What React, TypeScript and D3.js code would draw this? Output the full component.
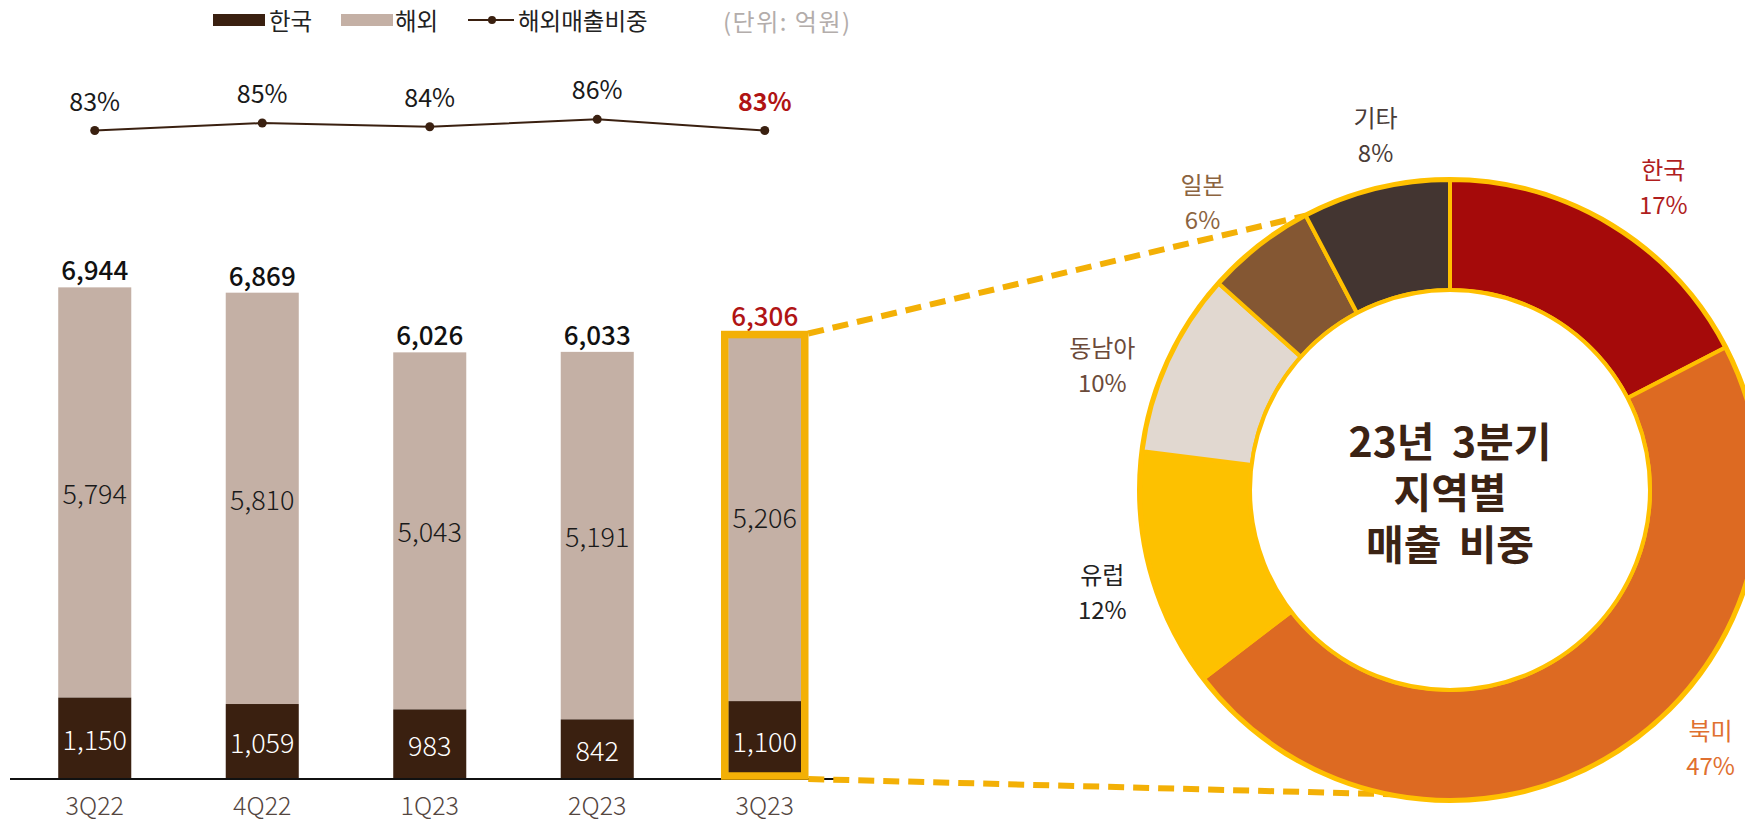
import React from "react";
import * as d3 from "d3";

const quarters = ["3Q22", "4Q22", "1Q23", "2Q23", "3Q23"];
const korea = [1150, 1059, 983, 842, 1100];
const overseas = [5794, 5810, 5043, 5191, 5206];
const totals = [6944, 6869, 6026, 6033, 6306];
const overseasShare = [83, 85, 84, 86, 83];
const shareLabels = ["83%", "85%", "84%", "86%", "83%"];

const regions = ["한국", "북미", "유럽", "동남아", "일본", "기타"];
const regionShare = [17.4, 47.2, 12.4, 9.6, 5.7, 7.7];
const regionLabels = ["17%", "47%", "12%", "10%", "6%", "8%"];
const centerTitle = ["23년 3분기", "지역별", "매출 비중"];

const FONT = "'Noto Sans CJK KR', 'Noto Sans', sans-serif";
const C_KOREA = "#3A2010";
const C_OVER = "#C4B0A5";
const C_HL = "#F3B006";
const regionColors = ["#A50A0A", "#DD6A22", "#FDC100", "#E1D8D0", "#845733", "#433531"];
const regionTextColors = ["#B01E1E", "#E07030", "#222222", "#6B4A3A", "#8C6440", "#4A3C38"];
// label placement around the donut: angle (deg, clockwise from top) and radius
const labelPlace: Record<string, [number, number]> = {
  "한국": [35, 372],
  "북미": [134.6, 366],
  "유럽": [253.8, 362],
  "동남아": [290, 370],
  "일본": [319.5, 381],
  "기타": [348.2, 364],
};

const fmt = d3.format(",");

export default function App() {
  const W = 1745, H = 821;
  const x = d3.scaleBand<string>().domain(quarters).range([11, 848.5]).paddingInner(0.564).paddingOuter(0.282);
  const bw = x.bandwidth();
  const y = d3.scaleLinear().domain([0, 7000]).range([779, 779 - 7000 * 0.0708]);
  const yl = d3.scaleLinear().domain([80, 90]).range([141.7, 104.4]);
  const cx = (q: string) => (x(q) as number) + bw / 2;

  const linePath = d3.line<number>().x((_, i) => cx(quarters[i])).y((d) => yl(d))(overseasShare) as string;

  // donut
  const dc = { x: 1450, y: 490 };
  const rOut = 310, rIn = 200;
  const pie = d3.pie<number>().sort(null).value((d) => d);
  const arcs = pie(regionShare);
  const arc = d3.arc<d3.PieArcDatum<number>>().innerRadius(rIn).outerRadius(rOut);
  const polar = (ang: number, r: number) => ({ x: dc.x + r * Math.sin(ang), y: dc.y - r * Math.cos(ang) });

  const last = quarters.length - 1;
  const lq = quarters[last];
  const hx0 = (x(lq) as number) - 3.5;
  const hx1 = (x(lq) as number) + bw + 3.5;
  const hy0 = y(totals[last]) + 2;
  const hy1 = y(0) - 3;

  const topAng = arcs[4].endAngle; // boundary 일본/기타
  const pTop = polar(topAng, rOut);
  const pBot = polar(Math.PI * (184 / 180), 306);

  return (
    <svg width={W} height={H} style={{ position: "absolute", left: 0, top: 0 }} fontFamily={FONT}>
      <rect width={W} height={H} fill="#fff" />
      {/* legend */}
      <g fontSize={23.5} fill="#222">
        <rect x={213} y={14} width={52} height={12} fill={C_KOREA} />
        <text x={269} y={20} dominantBaseline="central">한국</text>
        <rect x={341} y={14} width={52} height={12} fill={C_OVER} />
        <text x={395} y={20} dominantBaseline="central">해외</text>
        <line x1={468} x2={514} y1={20} y2={20} stroke={C_KOREA} strokeWidth={2} />
        <circle cx={492} cy={20} r={4} fill={C_KOREA} />
        <text x={518} y={20} dominantBaseline="central">해외매출비중</text>
        <text x={723} y={20} dominantBaseline="central" fill="#B3ADAB" fontSize={24} letterSpacing={1.5}>(단위: 억원)</text>
      </g>

      {/* share line */}
      <path d={linePath} fill="none" stroke={C_KOREA} strokeWidth={2} />
      {overseasShare.map((v, i) => (
        <g key={"p" + i}>
          <circle cx={cx(quarters[i])} cy={yl(v)} r={4.5} fill={C_KOREA} />
          <text x={cx(quarters[i])} y={yl(v) - 20} textAnchor="middle" fontSize={25}
            fill={i === last ? "#B01414" : "#1a1a1a"} fontWeight={i === last ? 700 : 400}>{shareLabels[i]}</text>
        </g>
      ))}

      {/* bars */}
      {quarters.map((q, i) => (
        <g key={q}>
          <rect x={x(q)} y={y(korea[i] + overseas[i])} width={bw} height={y(korea[i]) - y(korea[i] + overseas[i])} fill={C_OVER} />
          <rect x={x(q)} y={y(korea[i])} width={bw} height={y(0) - y(korea[i])} fill={C_KOREA} />
          <text x={cx(q)} y={(y(korea[i]) + y(korea[i] + overseas[i])) / 2} textAnchor="middle" dominantBaseline="central"
            fontSize={27} fontWeight={300} fill="#1a1a1a">{fmt(overseas[i])}</text>
          <text x={cx(q)} y={(y(korea[i]) + y(0)) / 2} textAnchor="middle" dominantBaseline="central"
            fontSize={27} fontWeight={300} fill="#fff">{fmt(korea[i])}</text>
          <text x={cx(q)} y={y(totals[i]) - 7} textAnchor="middle" fontSize={26} fontWeight={500}
            fill={i === last ? "#B01414" : "#111"}>{fmt(totals[i])}</text>
          <text x={cx(q)} y={815} textAnchor="middle" fontSize={25} fontWeight={300} fill="#54463F">{q}</text>
        </g>
      ))}
      <line x1={10} x2={836} y1={y(0)} y2={y(0)} stroke="#111" strokeWidth={2} />

      {/* highlight */}
      <rect x={hx0} y={hy0} width={hx1 - hx0} height={hy1 - hy0} fill="none" stroke={C_HL} strokeWidth={7.5} />
      <line x1={hx1 + 3.5} y1={hy0 - 1} x2={pTop.x} y2={pTop.y} stroke={C_HL} strokeWidth={6} strokeDasharray="16 9" />
      <line x1={hx1 + 3.5} y1={y(0)} x2={pBot.x} y2={pBot.y} stroke={C_HL} strokeWidth={6} strokeDasharray="16 9" />

      {/* donut */}
      <g transform={`translate(${dc.x},${dc.y})`}>
        {arcs.map((a, i) => (
          <path key={regions[i]} d={arc(a) as string} fill={regionColors[i]} stroke="#FFC000" strokeWidth={4} strokeLinejoin="round" />
        ))}
        <circle r={rOut + 1} fill="none" stroke="#FFC000" strokeWidth={4} />
        <circle r={rIn} fill="#fff" stroke="#FFC000" strokeWidth={4} />
        <text fontSize={41} fontWeight={700} fill="#3B2314" textAnchor="middle" dominantBaseline="central" wordSpacing={8}>
          {centerTitle.map((t, i) => (
            <tspan key={t} x={0} y={(i - 1) * 51.5}>{t}</tspan>
          ))}
        </text>
      </g>
      {arcs.map((a, i) => {
        const [deg, r] = labelPlace[regions[i]];
        const p = polar((deg * Math.PI) / 180, r);
        return (
          <g key={"l" + i} fontSize={24} fill={regionTextColors[i]} textAnchor="middle">
            <text x={p.x} y={p.y - 17} dominantBaseline="central">{regions[i]}</text>
            <text x={p.x} y={p.y + 18} dominantBaseline="central">{regionLabels[i]}</text>
          </g>
        );
      })}
    </svg>
  );
}
